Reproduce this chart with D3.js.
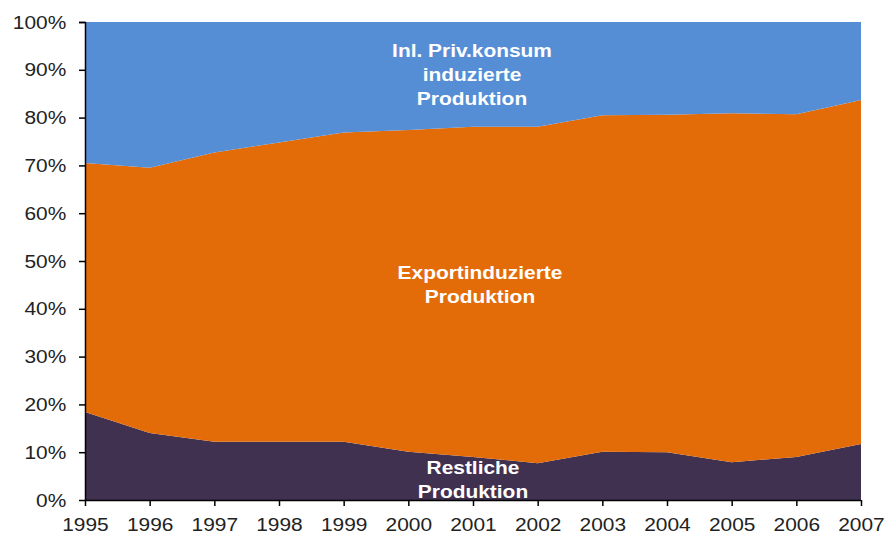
<!DOCTYPE html>
<html>
<head>
<meta charset="utf-8">
<script src="https://cdn.jsdelivr.net/npm/d3@7"></script>
<style>
  body { margin: 0; background: #fff; }
  #chart { width: 889px; height: 536px; }
</style>
</head>
<body>
<div id="chart"></div>
<script>
// 100% stacked area: shares of production

var years = [1995, 1996, 1997, 1998, 1999, 2000, 2001, 2002, 2003, 2004, 2005, 2006, 2007];
var restliche = [18.4, 14.0, 12.2, 12.2, 12.2, 10.1, 9.0, 7.7, 10.1, 10.0, 7.9, 9.0, 11.7];
var export_ = [52.1, 55.5, 60.5, 62.6, 64.7, 67.3, 69.1, 70.4, 70.4, 70.6, 73.0, 71.7, 72.0];
var inland = [29.5, 30.5, 27.3, 25.2, 23.1, 22.6, 21.9, 21.9, 19.5, 19.4, 19.1, 19.3, 16.3];
var yTicks = [0, 10, 20, 30, 40, 50, 60, 70, 80, 90, 100];

var svgWidth = 889;
var svgHeight = 536;

var margin = { top: 22, right: 28, bottom: 36, left: 85 };
var width = svgWidth - margin.left - margin.right;
var height = svgHeight - margin.top - margin.bottom;

var svg = d3.select("#chart")
  .append("svg")
  .attr("width", svgWidth)
  .attr("height", svgHeight);

var chartGroup = svg.append("g")
  .attr("transform", `translate(${margin.left}, ${margin.top})`);

var data = years.map(function(y, i) {
  return { year: y, rest: restliche[i], exp: export_[i], inl: inland[i] };
});

var keys = ["rest", "exp", "inl"];
var colors = { rest: "#403151", exp: "#E36C09", inl: "#558ED5" };

var stack = d3.stack().keys(keys).offset(d3.stackOffsetExpand);
var series = stack(data);

var xScale = d3.scaleLinear()
  .domain([1995, 2007])
  .range([0, width]);

var yScale = d3.scaleLinear()
  .domain([0, 1])
  .range([height, 0]);

var area = d3.area()
  .x(function(d) { return xScale(d.data.year); })
  .y0(function(d) { return yScale(d[0]); })
  .y1(function(d) { return yScale(d[1]); });

chartGroup.append("g")
  .selectAll("path")
  .data(series)
  .enter()
  .append("path")
  .attr("d", area)
  .style("fill", function(d) { return colors[d.key]; });

var leftAxis = d3.axisLeft(yScale)
  .tickValues(yTicks.map(function(t) { return t / 100; }))
  .tickFormat(function(t) { return Math.round(t * 100) + "%"; })
  .tickSize(6)
  .tickPadding(11);

var bottomAxis = d3.axisBottom(xScale)
  .tickValues(years)
  .tickFormat(d3.format("d"))
  .tickSize(6)
  .tickPadding(12);

var yAxisG = chartGroup.append("g")
  .call(leftAxis);

var xAxisG = chartGroup.append("g")
  .attr("transform", `translate(0, ${height})`)
  .call(bottomAxis);

// the original text looks a bit stretched sideways
[yAxisG, xAxisG].forEach(function(g) {
  g.select(".domain").attr("stroke", "#000").attr("stroke-width", 1.5);
  g.selectAll(".tick line").attr("stroke", "#000").attr("stroke-width", 1.5);
  g.selectAll("text")
    .attr("font-family", "Liberation Sans, Arial, sans-serif")
    .attr("font-size", "19px")
    .attr("fill", "#222")
    .attr("transform", "scale(1.1,1)");
});
yAxisG.select(".domain").attr("d", `M-6,0.5H0.5V${height}`);
xAxisG.select(".domain").attr("d", `M0,0.5H${width}`);

// series labels
var labels = [
  { lines: ["Inl. Priv.konsum", "induzierte", "Produktion"], x: 472, y: 57 },
  { lines: ["Exportinduzierte", "Produktion"], x: 480, y: 279 },
  { lines: ["Restliche", "Produktion"], x: 473, y: 474 }
];

labels.forEach(function(l) {
  var t = svg.append("text")
    .attr("transform", `translate(${l.x}, ${l.y}) scale(1.1,1)`)
    .attr("text-anchor", "middle")
    .attr("font-family", "Liberation Sans, Arial, sans-serif")
    .attr("font-weight", "bold")
    .attr("font-size", "19px")
    .attr("fill", "#fff");
  l.lines.forEach(function(line, i) {
    t.append("tspan")
      .attr("x", 0)
      .attr("y", i * 24)
      .text(line);
  });
});
</script>
</body>
</html>
